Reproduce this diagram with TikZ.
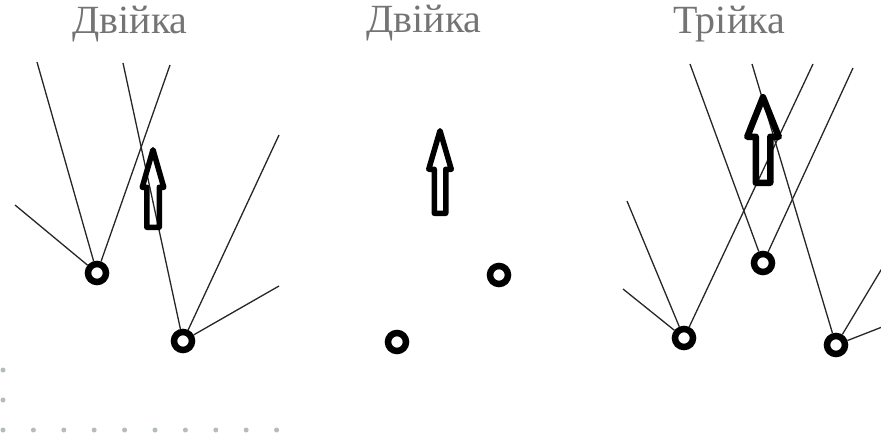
\documentclass[tikz,border=0pt]{standalone}
\usepackage{fontspec}
\setmainfont{Liberation Serif}
\usepackage{tikz}
\usetikzlibrary{calc}
\definecolor{sirij}{HTML}{747474}
\definecolor{krapka}{HTML}{B4BCBC}
\definecolor{liniia}{HTML}{262626}

\begin{document}
\begin{tikzpicture}[x=1pt,y=-1pt,
  zirka/.style={circle,draw,line width=6.5pt,minimum size=18pt,inner sep=0pt},
  promin/.style={draw=liniia,line width=1.3pt},
  strilka/.style={draw,line join=round},
  napys/.style={anchor=base,text=sirij,font=\fontsize{40}{44}\selectfont}]
\clip (0,0) rectangle (881,436);
\node[napys] (t1) at (130,34) {Двійка};
\node[napys] (t2) at (424,33) {Двійка};
\node[napys] (t3) at (729,34) {Трійка};
% zirky
\foreach \n/\x/\y in {a/97/273,b/183/341,c/499/275,d/397/342,e/763/263,f/684/338,g/836/345}
  \node[zirka] (\n) at (\x,\y) {};
% promeni
\foreach \n/\x/\y [count=\i] in {a/15/205,a/37/62,a/170/65,b/123/63,b/279/135,b/279/286,e/690/64,e/853/68,f/627/201,f/623/289,f/813/64,g/752/64,g/893/250,g/900/320}{
  \coordinate (k\i) at (\x,\y);
  \draw[promin] (\n) -- (k\i);
}
% strilky
\foreach \x/\t/\h/\b/\s/\e/\w in {153/149.75/10.75/187.25/6.25/227.25/5.5,440/130.75/11.25/169.25/5.75/213.25/5.5,763/97.25/15.75/136.75/7.25/182.75/6.5}
  \draw[strilka,line width=\w pt] (\x,\t) -- (\x+\h,\b) -- (\x+\s,\b) -- (\x+\s,\e) -- (\x-\s,\e) -- (\x-\s,\b) -- (\x-\h,\b) -- cycle;
% krapky
\foreach \i in {0,...,9} \fill[krapka] (3+30.4*\i,430) circle (2.5pt);
\foreach \y in {370,400} \fill[krapka] (3,\y) circle (2.5pt);
\end{tikzpicture}
\end{document}
